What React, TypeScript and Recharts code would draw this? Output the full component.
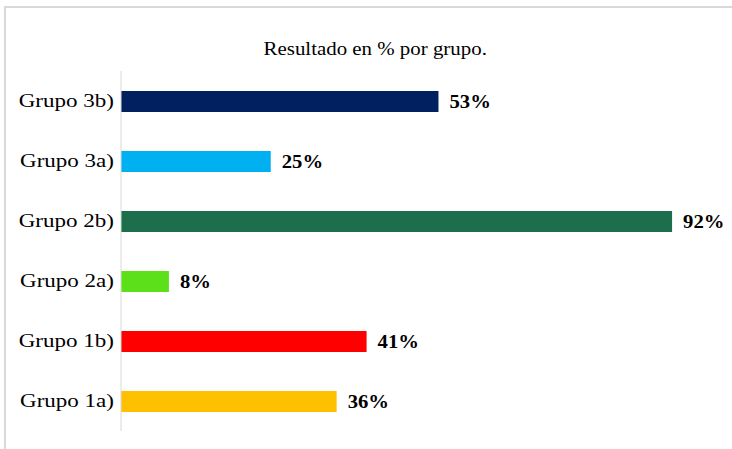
import { BarChart, Bar, XAxis, YAxis, Cell, LabelList } from 'recharts';

const grupos = ['Grupo 3b)', 'Grupo 3a)', 'Grupo 2b)', 'Grupo 2a)', 'Grupo 1b)', 'Grupo 1a)'];
const resultados = [53, 25, 92, 8, 41, 36];
const colores = ['#002060', '#00B0F0', '#1C6E4C', '#5CE01A', '#FF0000', '#FFC000'];

const data = grupos.map((g, i) => ({ grupo: g, valor: resultados[i] }));

const FONT = '"Liberation Serif", "Times New Roman", serif';

function GroupTick(props: any) {
  const { x, y, payload } = props;
  return (
    <g transform={`translate(${x},${y})`}>
      <text transform="scale(1.28,1)" textAnchor="end" dy="0.34em" fontFamily={FONT} fontSize={18} fill="#000">
        {payload.value}
      </text>
    </g>
  );
}

function ValueLabel(props: any) {
  const { x, y, width, height, value } = props;
  return (
    <g transform={`translate(${x + width + 11},${y + height / 2})`}>
      <text transform="scale(1.15,1)" dy="0.34em" fontFamily={FONT} fontSize={18} fontWeight="bold" fill="#000">
        {`${value}%`}
      </text>
    </g>
  );
}

export default function App() {
  return (
    <div style={{ position: 'absolute', left: 0, top: 0, width: 732, height: 449, background: '#fff', overflow: 'hidden' }}>
      <div style={{ position: 'absolute', left: 4, top: 6, width: 740, height: 460, border: '2px solid #d9d9d9', boxSizing: 'border-box' }} />
      <div
        style={{
          position: 'absolute', left: 0, top: 40, width: 751, textAlign: 'center',
          fontFamily: FONT, fontSize: 18, lineHeight: '18px', color: '#000',
        }}
      >
        <span style={{ display: 'inline-block', transform: 'scaleX(1.16)' }}>Resultado en % por grupo.</span>
      </div>
      <div style={{ position: 'absolute', left: 0, top: 0 }}>
        <BarChart
          width={732}
          height={449}
          data={data}
          layout="vertical"
          margin={{ top: 71, right: 12, bottom: 18, left: 0 }}
          barSize={21}
        >
          <XAxis type="number" domain={[0, 100]} hide />
          <YAxis
            type="category"
            dataKey="grupo"
            width={121}
            axisLine={{ stroke: '#d9d9d9' }}
            tickLine={false}
            tickSize={0}
            tickMargin={7}
            tick={<GroupTick />}
          />
          <Bar dataKey="valor" isAnimationActive={false}>
            {data.map((d, i) => (
              <Cell key={d.grupo} fill={colores[i]} />
            ))}
            <LabelList dataKey="valor" content={<ValueLabel />} />
          </Bar>
        </BarChart>
      </div>
    </div>
  );
}
